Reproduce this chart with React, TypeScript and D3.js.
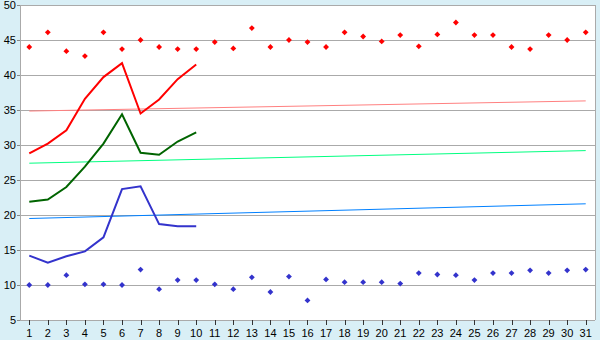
import React from "react";
import * as d3 from "d3";

const days = d3.range(1, 32).map(String);
const yTicks = [5, 10, 15, 20, 25, 30, 35, 40, 45, 50];

const redPoints = [44.0, 46.1, 43.4, 42.7, 46.1, 43.7, 45.0, 44.0, 43.7, 43.7, 44.7, 43.8, 46.7, 44.0, 45.0, 44.7, 44.0, 46.1, 45.5, 44.8, 45.7, 44.1, 45.8, 47.5, 45.7, 45.7, 44.0, 43.7, 45.7, 45.0, 46.1];
const bluePoints = [10.0, 10.0, 11.4, 10.1, 10.1, 10.0, 12.2, 9.4, 10.7, 10.7, 10.1, 9.4, 11.1, 9.0, 11.2, 7.8, 10.8, 10.4, 10.4, 10.4, 10.2, 11.7, 11.5, 11.4, 10.7, 11.7, 11.7, 12.1, 11.7, 12.1, 12.2];
const redLine = [28.8, 30.2, 32.1, 36.6, 39.7, 41.7, 34.5, 36.5, 39.4, 41.5];
const greenLine = [21.9, 22.2, 24.0, 26.9, 30.2, 34.4, 28.9, 28.6, 30.5, 31.8];
const blueLine = [14.2, 13.2, 14.1, 14.8, 16.8, 23.7, 24.1, 18.7, 18.4, 18.4];
const redTrend = [34.85, 36.3];
const greenTrend = [27.4, 29.2];
const blueTrend = [19.5, 21.6];

const W = 600, H = 340;
const L = 20, R = 595, T = 5, B = 320;

export default function App() {
  const x = d3.scaleBand<string>().domain(days).range([L, R]);
  const cx = (i: number) => (x(days[i]) as number) + x.bandwidth() / 2;
  const y = d3.scaleLinear().domain([5, 50]).range([B, T]);
  const line = d3.line<number>().x((_, i) => cx(i)).y((d) => y(d));
  const marker = d3.symbol(d3.symbolSquare, 17)();
  const font = "'Liberation Sans', Arial, sans-serif";

  const trend = (t: number[], color: string) => (
    <line x1={cx(0)} x2={cx(days.length - 1)} y1={y(t[0])} y2={y(t[1])} stroke={color} strokeWidth={1} />
  );

  return (
    <svg width={W} height={H} style={{ position: "absolute", left: 0, top: 0, display: "block" }}>
      <rect x={0} y={0} width={W} height={H} fill="#d9eff6" />
      <rect x={L} y={T} width={R - L} height={B - T} fill="#ffffff" />
      {yTicks.map((t) => (
        <line key={"g" + t} x1={L} x2={R} y1={y(t) + 0.5} y2={y(t) + 0.5} stroke="#aaaaaa" strokeWidth={1} />
      ))}
      <line x1={R + 0.5} x2={R + 0.5} y1={T} y2={B} stroke="#aaaaaa" />
      <line x1={L + 0.5} x2={L + 0.5} y1={T} y2={B} stroke="#aaaaaa" />
      <line x1={L} x2={R} y1={B + 0.5} y2={B + 0.5} stroke="#aaaaaa" />
      {yTicks.map((t) => (
        <g key={"yt" + t}>
          <line x1={L - 3} x2={L} y1={y(t) + 0.5} y2={y(t) + 0.5} stroke="#888888" />
          <text x={L - 4} y={y(t) + 1} textAnchor="end" dominantBaseline="middle" fontFamily={font} fontSize={11} fill="#000">
            {t}
          </text>
        </g>
      ))}
      {days.map((d, i) => (
        <g key={"xt" + d}>
          <line x1={Math.round(cx(i)) + 0.5} x2={Math.round(cx(i)) + 0.5} y1={B} y2={B + 5} stroke="#333333" />
          <text x={cx(i)} y={B + 16.5} textAnchor="middle" fontFamily={font} fontSize={11} fill="#000">
            {d}
          </text>
        </g>
      ))}
      {trend(redTrend, "#ff8080")}
      {trend(greenTrend, "#00ff80")}
      {trend(blueTrend, "#0080ff")}
      <path d={line(redLine) || ""} fill="none" stroke="#ff0000" strokeWidth={2} />
      <path d={line(greenLine) || ""} fill="none" stroke="#006400" strokeWidth={2} />
      <path d={line(blueLine) || ""} fill="none" stroke="#3333cc" strokeWidth={2} />
      {redPoints.map((v, i) => (
        <path key={"rp" + i} d={marker || ""} transform={`translate(${cx(i)},${y(v)}) rotate(45)`} fill="#ff0000" />
      ))}
      {bluePoints.map((v, i) => (
        <path key={"bp" + i} d={marker || ""} transform={`translate(${cx(i)},${y(v)}) rotate(45)`} fill="#3333cc" />
      ))}
    </svg>
  );
}
